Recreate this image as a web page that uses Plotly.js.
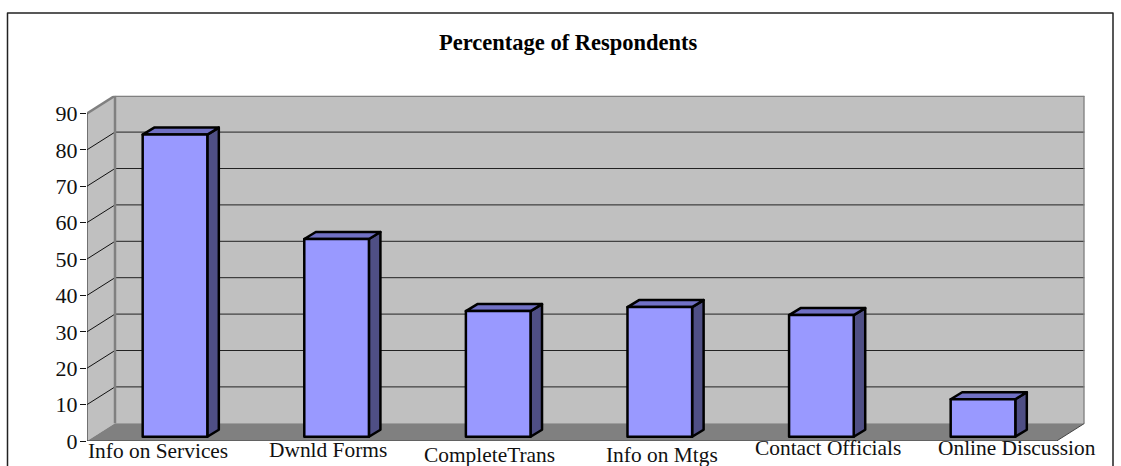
<!DOCTYPE html>
<html><head><meta charset="utf-8">
<script src="https://cdn.plot.ly/plotly-3.0.1.min.js"></script>
<style>html,body{margin:0;padding:0;background:#fff}#c{width:1121px;height:466px}
.shapelayer path,.bars path{stroke-linejoin:round}</style></head>
<body><div id="c"></div>
<script>
const categories = ["Info on Services","Dwnld Forms","CompleteTrans","Info on Mtgs","Contact Officials","Online Discussion"];
const values = [83, 54.3, 34.5, 35.6, 33.4, 10.3];
const yTicks = [0,10,20,30,40,50,60,70,80,90];
const labelShiftY = [-10,-9,-14,-14,-7,-7];
const labelShiftX = [-9.3,-1.5,-2,9,13.5,41];
const chartTitle = "Percentage of Respondents";

const W=1121,H=466;
const pxX=161.6, pxY=3.64;           // pixels per axis unit
const wallDx=28/pxX, wallDy=17.7/pxY;  // depth of the floor
const barDx=11.5/pxX, barDy=7/pxY;   // depth of a bar
const frontDx=7.2/pxX, frontDy=4.3/pxY; // gap between axis plane and bar front
const barW=0.4;
const xMin=-0.5, xMax=5.5, yMax=90;
const xEnd=xMax+wallDx, yEnd=yMax+wallDy;
const poly=p=>'M'+p.map(q=>q[0]+','+q[1]).join(' L')+' Z';
const shapes=[];
const add=(path,fill,lc,lw)=>shapes.push({type:'path',path,xref:'x',yref:'y',layer:'below',fillcolor:fill,line:{color:lc,width:lw}});
const seg=(x0,y0,x1,y1,c,w)=>shapes.push({type:'line',x0,y0,x1,y1,xref:'x',yref:'y',layer:'below',line:{color:c,width:w}});
// frame
shapes.push({type:'rect',xref:'paper',yref:'paper',x0:7.5/W,x1:1113/W,y0:-0.05,y1:1-13/H,layer:'below',fillcolor:'#fff',line:{color:'#222',width:1.5}});
// back wall, side wall, floor
add(poly([[xMin+wallDx,wallDy],[xEnd,wallDy],[xEnd,yEnd],[xMin+wallDx,yEnd]]),'#c0c0c0','rgba(0,0,0,0)',0);
add(poly([[xMin,0],[xMin+wallDx,wallDy],[xMin+wallDx,yEnd],[xMin,yMax]]),'#c0c0c0','rgba(0,0,0,0)',0);
add(poly([[xMin,0],[xMax,0],[xEnd,wallDy],[xMin+wallDx,wallDy]]),'#808080','rgba(0,0,0,0)',0);
// grid
yTicks.filter(t=>t>0&&t<yMax).forEach(t=>{
  seg(xMin,t,xMin+wallDx,t+wallDy,'#111',1);
  seg(xMin+wallDx,t+wallDy,xEnd,t+wallDy,'#222',1);
});
// wall edges
seg(xMin,yMax,xMin+wallDx,yEnd,'#808080',2.5);
seg(xMin+wallDx,yEnd,xEnd,yEnd,'#808080',2.5);
seg(xMin+wallDx,yEnd,xMin+wallDx,wallDy,'#808080',2.5);
seg(xEnd,yEnd,xEnd,wallDy,'#808080',2.5);
seg(xMin,0,xMax,0,'#444',1);
seg(xMax,0,xEnd,wallDy,'#444',1);
seg(xMin,0,xMin,yMax,'#222',1);
// bar depth faces
values.forEach((v,i)=>{
  const x0=i-barW/2+frontDx,x1=x0+barW,y0=frontDy,y1=frontDy+v;
  add(poly([[x1,y0],[x1+barDx,y0+barDy],[x1+barDx,y1+barDy],[x1,y1]]),'#4f4f85','#000',2.5);
  add(poly([[x0,y1],[x1,y1],[x1+barDx,y1+barDy],[x0+barDx,y1+barDy]]),'#7070c4','#000',2.5);
});
const data=[{type:'bar',x:categories.map((c,i)=>i),y:values,base:frontDy,width:barW,offset:-barW/2+frontDx,
  text:categories,hoverinfo:'text+y',textposition:'none',
  marker:{color:'#9999ff',line:{color:'#000',width:2.5}}}];
const serif='"Liberation Serif","Times New Roman",serif';
const annotations=categories.map((c,i)=>({x:i,y:0,xref:'x',yref:'y',text:c,showarrow:false,xanchor:'center',yanchor:'middle',
  yshift:labelShiftY[i],xshift:labelShiftX[i],font:{family:serif,size:21.4,color:'#111'}}));
annotations.push({xref:'paper',yref:'paper',x:568/W,y:1-43/H,text:'<b>'+chartTitle+'</b>',showarrow:false,xanchor:'center',yanchor:'middle',font:{family:serif,size:22.5,color:'#000'}});
const layout={width:W,height:H,margin:{l:0,r:0,t:0,b:0,pad:0},autosize:false,showlegend:false,
  paper_bgcolor:'#fff',plot_bgcolor:'rgba(0,0,0,0)',
  xaxis:{domain:[87/W,(87+(xEnd-xMin)*pxX)/W],range:[xMin,xEnd],showgrid:false,zeroline:false,showline:false,showticklabels:false,ticks:'',fixedrange:true},
  yaxis:{domain:[(H-441)/H,(H-441+yEnd*pxY)/H],range:[0,yEnd],showgrid:false,zeroline:false,showline:false,tickvals:yTicks,ticktext:yTicks.map(String),ticks:'outside',ticklen:6,tickwidth:1,tickcolor:'#111',ticklabelstandoff:-2,tickfont:{family:serif,size:22,color:'#111'},fixedrange:true},
  shapes,annotations,bargap:0};
Plotly.newPlot('c',data,layout,{displayModeBar:false,staticPlot:true});
</script></body></html>
